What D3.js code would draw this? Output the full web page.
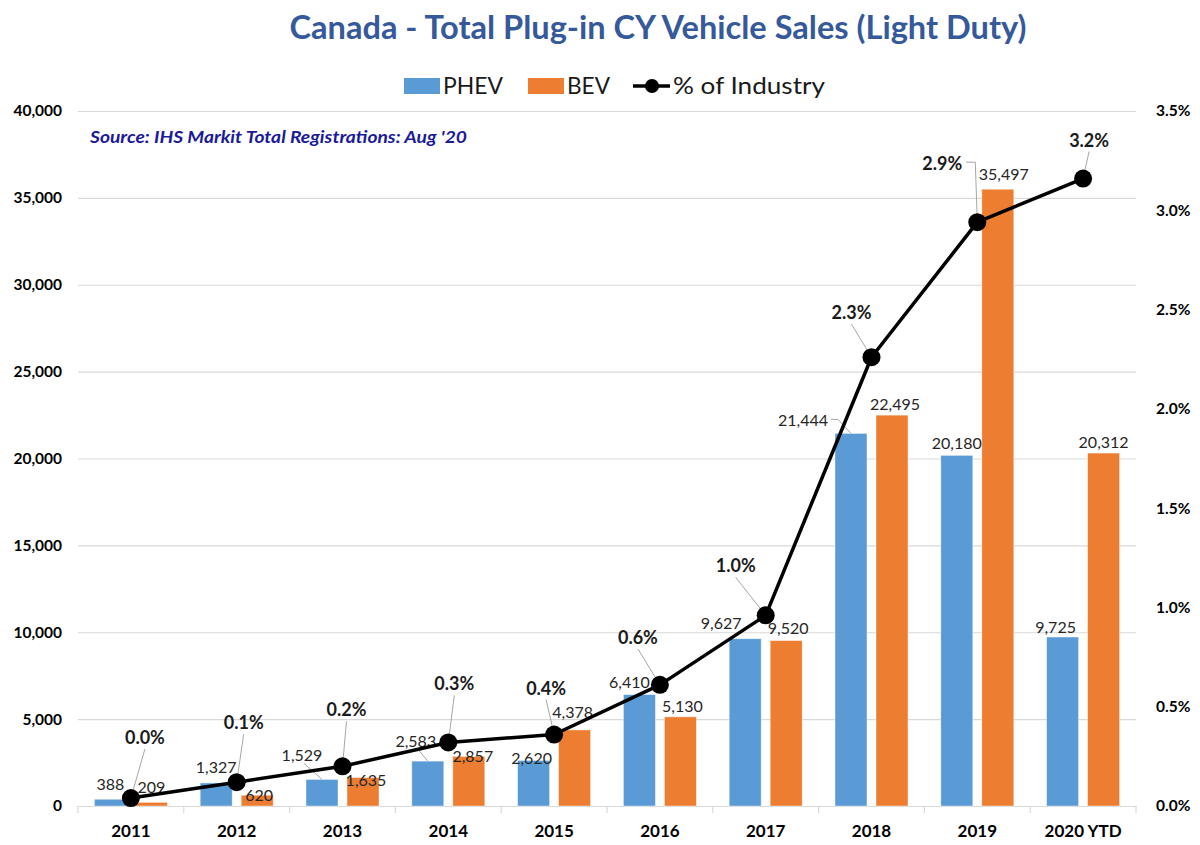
<!DOCTYPE html>
<html>
<head>
<meta charset="utf-8">
<script src="https://cdn.jsdelivr.net/npm/d3@7/dist/d3.min.js"></script>
<style>
  html, body { margin: 0; padding: 0; background: #fff; }
  svg { display: block; font-family: Lato, "Open Sans", sans-serif; }
</style>
</head>
<body>
<svg id="chart" width="1200" height="845"></svg>
<script>
// ---------- DATA ----------
const categories = ["2011","2012","2013","2014","2015","2016","2017","2018","2019","2020 YTD"];
const phev = [388, 1327, 1529, 2583, 2620, 6410, 9627, 21444, 20180, 9725];
const bev  = [209, 620, 1635, 2857, 4378, 5130, 9520, 22495, 35497, 20312];
const pctOfIndustry = [0.04, 0.12, 0.20, 0.32, 0.36, 0.61, 0.96, 2.26, 2.94, 3.16];
const leftTicks  = [0, 5000, 10000, 15000, 20000, 25000, 30000, 35000, 40000];
const rightTicks = [0, 0.5, 1.0, 1.5, 2.0, 2.5, 3.0, 3.5];
const seriesNames = ["PHEV", "BEV", "% of Industry"];
const titleText = "Canada - Total Plug-in CY Vehicle Sales (Light Duty)";
const sourceText = "Source: IHS Markit Total Registrations: Aug '20";

// ---------- LABEL PLACEMENT (layout, not data) ----------
// [dx, dy, leader] nudges relative to default position above bar top
const phevNudge = [[0,-4,0],[0,-4,0],[-20,-13,1],[-12,-9,1],[-2,9,0],[-10,-1,0],[-24,-4,0],[-48,-2,2],[0,-1,0],[-7,1,0]];
const bevNudge  = [[0,-4,0],[2,11,0],[3,14,0],[4,11,0],[-2,-6,0],[2,1,0],[2,-1,0],[3,0,0],[6,-4,0],[0,0,0]];
// pct labels: offset from dot center, leader type
const pctNudge = [[14,-61,1],[7,-60,1],[4,-57,1],[6,-59,1],[-8,-47,1],[-22,-48,1],[-30,-50,1],[-20,-45,1],[-35,-59,2],[6,-39,1]];

// ---------- SETUP ----------
const colPHEV = "#5B9BD5", colBEV = "#ED7D31";
const svg = d3.select("#chart");
const X0 = 78, X1 = 1136, Y0 = 111, Y1 = 806;

const x = d3.scaleBand().domain(categories).range([X0, X1]).padding(0);
const xs = d3.scaleBand().domain(["PHEV","BEV"]).range([0, x.bandwidth()]).paddingInner(0.22).paddingOuter(0.4);
const yL = d3.scaleLinear().domain([0, 40000]).range([Y1, Y0]);
const yR = d3.scaleLinear().domain([0, 3.5]).range([Y1, Y0]);
const fmt = d3.format(",");

// Title
svg.append("text")
  .attr("x", 658).attr("y", 39)
  .attr("text-anchor", "middle")
  .attr("textLength", 737).attr("lengthAdjust", "spacingAndGlyphs")
  .style("font-size", "32px").style("font-weight", "bold").style("fill", "#35599B")
  .text(titleText);

// Gridlines (left axis)
const gridG = svg.append("g").attr("transform", `translate(${X0},0)`)
  .call(d3.axisLeft(yL).tickValues(leftTicks).tickSize(-(X1 - X0)).tickFormat(""));
gridG.select(".domain").remove();
gridG.selectAll(".tick line").attr("stroke", "#D9D9D9").attr("stroke-width", 1.2);

// Left axis labels
const leftAx = svg.append("g").attr("transform", `translate(${X0},0)`)
  .call(d3.axisLeft(yL).tickValues(leftTicks).tickSize(0).tickPadding(16).tickFormat(fmt));
leftAx.select(".domain").remove();
leftAx.selectAll("text").style("font-family", "Lato, sans-serif").style("font-size", "15.5px")
  .style("font-weight", "bold").style("fill", "#000");

// Right axis labels
const rightAx = svg.append("g").attr("transform", `translate(${X1},0)`)
  .call(d3.axisRight(yR).tickValues(rightTicks).tickSize(0).tickPadding(20).tickFormat(d => d.toFixed(1) + "%"));
rightAx.select(".domain").remove();
rightAx.selectAll("text").style("font-family", "Lato, sans-serif").style("font-size", "15.5px")
  .style("font-weight", "bold").style("fill", "#000");

// X axis
const xAx = svg.append("g").attr("transform", `translate(0,${Y1})`)
  .call(d3.axisBottom(x).tickSize(0).tickPadding(19));
xAx.select(".domain").attr("stroke", "#D9D9D9").attr("stroke-width", 1.2);
xAx.selectAll("text").style("font-family", "Lato, sans-serif").style("font-size", "17px")
  .style("font-weight", "bold").style("fill", "#000");
// category separators
const bounds = categories.map(c => x(c)).concat([x(categories[categories.length-1]) + x.bandwidth()]);
svg.append("g").selectAll("line").data(bounds).join("line")
  .attr("x1", d => d).attr("x2", d => d).attr("y1", Y1).attr("y2", Y1 + 7)
  .attr("stroke", "#D9D9D9").attr("stroke-width", 1.2);

// Source note
svg.append("text").attr("x", 90).attr("y", 143)
  .attr("textLength", 377).attr("lengthAdjust", "spacingAndGlyphs")
  .style("font-size", "17px").style("font-weight", "bold").style("font-style", "italic")
  .style("fill", "#1A1A9A").text(sourceText);

// Bars
const rows = categories.map((c, i) => ({c, i, PHEV: phev[i], BEV: bev[i]}));
const barG = svg.append("g");
["PHEV","BEV"].forEach(k => {
  barG.selectAll(".bar-" + k).data(rows).join("rect")
    .attr("class", "bar-" + k)
    .attr("x", d => x(d.c) + xs(k))
    .attr("width", xs.bandwidth())
    .attr("y", d => yL(d[k]))
    .attr("height", d => yL(0) - yL(d[k]))
    .attr("fill", k === "PHEV" ? colPHEV : colBEV)
    .attr("stroke", "#fff").attr("stroke-opacity", 0.5).attr("stroke-width", 0.8);
});

// Bar labels + leaders
const leaderG = svg.append("g");
const labelG = svg.append("g");
["PHEV","BEV"].forEach(k => {
  const nudges = k === "PHEV" ? phevNudge : bevNudge;
  rows.forEach(d => {
    const cx = x(d.c) + xs(k) + xs.bandwidth() / 2;
    const top = yL(d[k]);
    const n = nudges[d.i];
    const lx = cx + n[0], ly = top - 12 + n[1];
    const t = labelG.append("text").attr("x", lx).attr("y", ly)
      .attr("text-anchor", "middle").attr("dominant-baseline", "central")
      .style("font-size", "16px").style("fill", "#262626").text(fmt(d[k]));
    if (n[2]) {
      const w = t.node().getComputedTextLength();
      if (n[2] === 1) {
        leaderG.append("line").attr("x1", lx + 2).attr("y1", ly + 9)
          .attr("x2", cx).attr("y2", top)
          .attr("stroke", "#A6A6A6").attr("stroke-width", 1);
      } else {
        leaderG.append("polyline")
          .attr("points", `${lx + w/2 + 3},${ly} ${lx + w/2 + 10},${ly} ${cx},${top}`)
          .attr("fill", "none").attr("stroke", "#A6A6A6").attr("stroke-width", 1);
      }
    }
  });
});

// Line series
const pts = categories.map((c, i) => [x(c) + x.bandwidth() / 2, yR(pctOfIndustry[i])]);
const pctLabelG = svg.append("g");
pts.forEach((p, i) => {
  const n = pctNudge[i];
  const lx = p[0] + n[0], ly = p[1] + n[1];
  const t = pctLabelG.append("text").attr("x", lx).attr("y", ly)
    .attr("text-anchor", "middle").attr("dominant-baseline", "central")
    .style("font-size", "18px").style("font-weight", "bold").style("fill", "#1A1A1A")
    .text(pctOfIndustry[i].toFixed(1) + "%");
  const w = t.node().getComputedTextLength();
  if (n[2] === 1) {
    leaderG.append("line").attr("x1", lx).attr("y1", ly + 12)
      .attr("x2", p[0]).attr("y2", p[1])
      .attr("stroke", "#A6A6A6").attr("stroke-width", 1);
  } else if (n[2] === 2) {
    leaderG.append("polyline")
      .attr("points", `${lx + w/2 + 4},${ly - 1} ${p[0] - 2},${ly - 1} ${p[0]},${p[1]}`)
      .attr("fill", "none").attr("stroke", "#A6A6A6").attr("stroke-width", 1);
  }
});

svg.append("path").datum(pts)
  .attr("d", d3.line())
  .attr("fill", "none").attr("stroke", "#000").attr("stroke-width", 3.5)
  .attr("stroke-linejoin", "round");
svg.append("g").selectAll("circle").data(pts).join("circle")
  .attr("cx", d => d[0]).attr("cy", d => d[1]).attr("r", 9).attr("fill", "#000");
pctLabelG.raise();
leaderG.lower();
gridG.lower();

// Legend
const lg = svg.append("g");
const legStyle = sel => sel.style("font-size", "23px").style("fill", "#1A1A1A").attr("lengthAdjust", "spacingAndGlyphs");
lg.append("rect").attr("x", 404).attr("y", 78).attr("width", 36).attr("height", 16).attr("fill", colPHEV);
lg.append("text").attr("x", 443).attr("y", 94).attr("textLength", 60).call(legStyle).text(seriesNames[0]);
lg.append("rect").attr("x", 528).attr("y", 78).attr("width", 36).attr("height", 16).attr("fill", colBEV);
lg.append("text").attr("x", 567).attr("y", 94).attr("textLength", 43).call(legStyle).text(seriesNames[1]);
lg.append("line").attr("x1", 633).attr("x2", 670).attr("y1", 86).attr("y2", 86).attr("stroke", "#000").attr("stroke-width", 3.5);
lg.append("circle").attr("cx", 652).attr("cy", 86).attr("r", 7).attr("fill", "#000");
lg.append("text").attr("x", 673).attr("y", 94).attr("textLength", 152).call(legStyle).text(seriesNames[2]);
</script>
</body>
</html>
